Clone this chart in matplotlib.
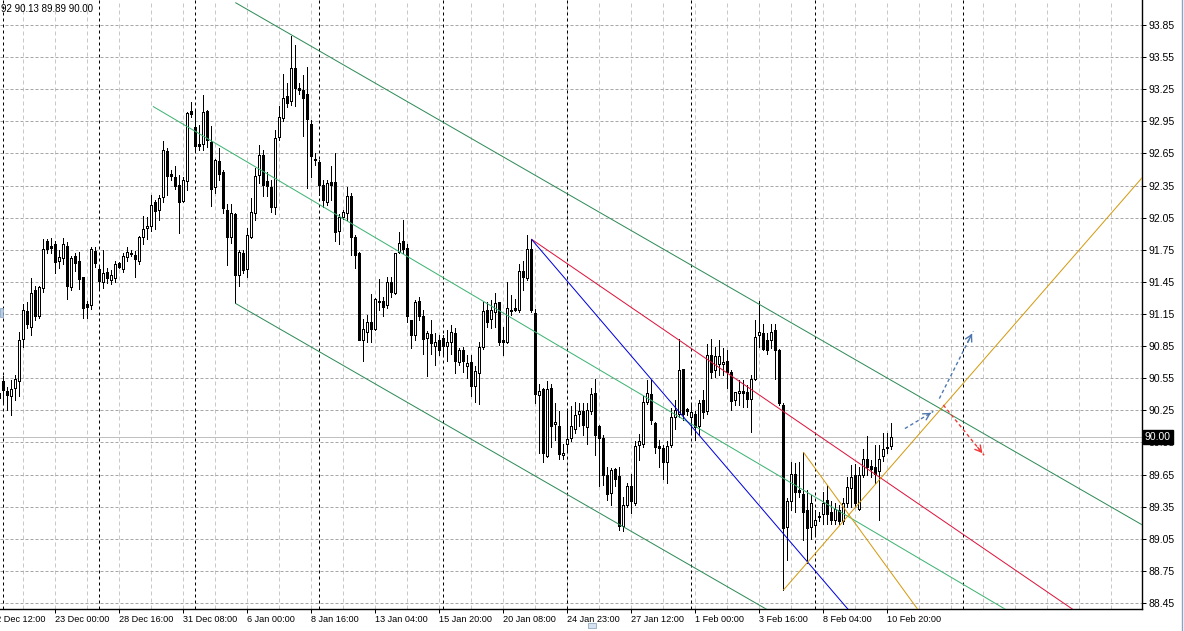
import matplotlib
matplotlib.use("Agg")
import matplotlib.pyplot as plt
import matplotlib.patches as mpatches
import numpy as np

# ---------------- data (H4 candles, bar index -1 .. 222) ----------------
bar_start = -1
opens = [90.37, 90.52, 90.43, 90.38, 90.46, 90.52, 90.92, 91.18, 91.03, 91.37,
         91.13, 91.39, 91.83, 91.79, 91.80, 91.65, 91.67, 91.79, 91.40, 91.69,
         91.65, 91.50, 91.24, 91.23, 91.74, 91.57, 91.45, 91.54, 91.47, 91.49,
         91.63, 91.57, 91.68, 91.72, 91.70, 91.65, 91.87, 91.95, 91.97, 92.20,
         92.12, 92.24, 92.67, 92.46, 92.43, 92.36, 92.21, 92.39, 93.05, 92.90,
         92.74, 92.74, 93.05, 92.76, 92.34, 92.58, 92.48, 92.12, 91.87, 92.08,
         91.51, 91.72, 91.57, 91.87, 92.09, 92.45, 92.64, 92.39, 92.34, 92.15,
         92.80, 92.98, 93.19, 93.14, 93.45, 93.26, 93.24, 93.21, 92.93, 92.60,
         92.57, 92.36, 92.20, 92.38, 92.38, 91.93, 92.06, 92.09, 92.25, 91.87,
         91.72, 90.91, 90.98, 91.08, 91.01, 91.27, 91.27, 91.23, 91.45, 91.35,
         91.73, 91.83, 91.77, 91.09, 90.95, 91.27, 91.13, 90.93, 90.96, 90.85,
         90.91, 90.93, 90.85, 90.89, 90.97, 90.70, 90.81, 90.66, 90.70, 90.48,
         90.60, 90.84, 91.19, 91.10, 91.17, 91.26, 90.91, 90.89, 91.18, 91.21,
         91.19, 91.55, 91.49, 91.76, 91.16, 90.39, 90.45, 89.82, 90.46, 90.12,
         90.10, 89.83, 89.94, 89.99, 90.08, 90.22, 90.24, 90.09, 90.24, 90.41,
         90.10, 89.99, 89.65, 89.48, 89.70, 89.64, 89.17, 89.37, 89.54, 89.38,
         89.93, 89.94, 90.33, 90.40, 90.13, 89.92, 89.90, 89.77, 89.93, 90.19,
         90.22, 90.64, 90.26, 90.19, 90.22, 90.10, 90.35, 90.24, 90.77, 90.63,
         90.68, 90.68, 90.71, 90.61, 90.35, 90.41, 90.43, 90.42, 90.36, 90.54,
         90.95, 90.97, 90.91, 90.91, 91.00, 90.81, 90.30, 89.16, 89.40, 89.66,
         89.51, 89.47, 89.32, 89.16, 89.18, 89.25, 89.28, 89.41, 89.30, 89.23,
         89.32, 89.22, 89.38, 89.52, 89.65, 89.33, 89.65, 89.80, 89.73, 89.72,
         89.68, 89.82, 89.895, 89.92]
highs = [90.42, 90.57, 90.47, 90.53, 90.58, 90.98, 91.24, 91.26, 91.49, 91.41,
         91.41, 91.85, 91.85, 91.86, 91.83, 91.75, 91.86, 91.82, 91.69, 91.72,
         91.73, 91.50, 91.27, 91.78, 91.78, 91.59, 91.75, 91.58, 91.56, 91.65,
         91.64, 91.72, 91.78, 91.75, 91.74, 91.88, 92.07, 92.06, 92.26, 92.22,
         92.26, 92.77, 92.70, 92.50, 92.53, 92.45, 92.43, 93.04, 93.13, 93.06,
         92.92, 93.20, 93.06, 92.91, 92.60, 92.70, 92.50, 92.18, 92.18, 92.09,
         91.75, 91.75, 91.95, 92.23, 92.51, 92.73, 92.68, 92.48, 92.40, 92.87,
         93.09, 93.39, 93.31, 93.75, 93.66, 93.31, 93.38, 93.46, 92.96, 92.65,
         92.59, 92.40, 92.40, 92.53, 92.65, 92.08, 92.12, 92.34, 92.28, 91.89,
         91.73, 91.10, 91.14, 91.34, 91.30, 91.48, 91.31, 91.50, 91.50, 91.72,
         91.92, 92.03, 91.80, 91.09, 91.28, 91.31, 91.19, 90.99, 91.09, 90.97,
         90.95, 90.95, 91.00, 91.05, 91.02, 90.83, 90.84, 90.77, 90.77, 90.66,
         90.89, 91.26, 91.26, 91.28, 91.35, 91.26, 91.03, 91.45, 91.33, 91.29,
         91.62, 91.65, 91.89, 91.85, 91.20, 90.50, 90.46, 90.52, 90.50, 90.32,
         90.24, 89.94, 90.25, 90.29, 90.33, 90.32, 90.32, 90.32, 90.46, 90.54,
         90.11, 90.02, 89.72, 89.71, 89.71, 89.72, 89.44, 89.57, 89.66, 89.96,
         90.03, 90.38, 90.53, 90.53, 90.14, 89.97, 89.93, 89.96, 90.27, 90.35,
         90.92, 90.64, 90.27, 90.32, 90.24, 90.35, 90.44, 90.87, 90.92, 90.84,
         90.91, 90.83, 90.81, 90.63, 90.42, 90.53, 90.53, 90.49, 90.58, 91.09,
         91.27, 91.06, 90.97, 91.06, 91.06, 90.82, 90.32, 89.43, 89.77, 89.76,
         89.77, 89.86, 89.51, 89.46, 89.32, 89.30, 89.49, 89.55, 89.40, 89.38,
         89.37, 89.43, 89.63, 89.74, 89.75, 89.72, 89.89, 90.01, 89.79, 89.93,
         89.93, 90.04, 90.04, 90.13]
lows = [90.31, 90.33, 90.25, 90.21, 90.35, 90.38, 90.84, 91.02, 90.95, 91.09,
        91.11, 91.36, 91.72, 91.72, 91.53, 91.58, 91.62, 91.29, 91.37, 91.55,
        91.38, 91.11, 91.11, 91.20, 91.59, 91.39, 91.39, 91.44, 91.43, 91.45,
        91.58, 91.54, 91.65, 91.69, 91.50, 91.62, 91.80, 91.85, 91.93, 91.94,
        92.03, 92.20, 92.26, 92.40, 92.32, 91.91, 92.20, 92.31, 92.99, 92.67,
        92.68, 92.68, 92.71, 92.16, 92.28, 92.40, 92.09, 91.61, 91.81, 91.25,
        91.41, 91.53, 91.50, 91.86, 92.03, 92.37, 92.25, 92.25, 92.10, 92.08,
        92.78, 92.95, 93.08, 93.10, 93.09, 93.21, 92.81, 92.33, 92.43, 92.54,
        92.26, 92.15, 92.17, 92.22, 91.83, 91.80, 92.04, 92.03, 91.70, 91.58,
        90.91, 90.71, 90.89, 90.89, 91.00, 91.19, 91.13, 91.21, 91.31, 91.34,
        91.72, 91.72, 91.08, 90.83, 90.91, 91.09, 90.78, 90.57, 90.78, 90.67,
        90.77, 90.78, 90.71, 90.78, 90.60, 90.67, 90.61, 90.55, 90.38, 90.33,
        90.31, 90.82, 91.03, 91.02, 91.03, 90.86, 90.77, 90.88, 91.14, 91.18,
        91.17, 91.37, 91.47, 91.17, 90.32, 89.85, 89.77, 89.81, 89.91, 89.97,
        89.80, 89.80, 89.88, 89.96, 90.04, 90.10, 90.02, 89.94, 90.22, 89.83,
        89.54, 89.55, 89.41, 89.37, 89.54, 89.13, 89.12, 89.35, 89.29, 89.37,
        89.79, 89.91, 90.31, 90.12, 89.85, 89.72, 89.61, 89.57, 89.91, 90.08,
        90.19, 90.16, 90.21, 90.04, 89.97, 90.02, 90.18, 90.22, 90.55, 90.56,
        90.58, 90.58, 90.46, 90.25, 90.30, 90.30, 90.28, 90.28, 90.05, 90.53,
        90.84, 90.81, 90.78, 90.83, 90.54, 90.30, 88.57, 88.85, 89.32, 89.30,
        89.44, 89.04, 88.82, 89.05, 89.09, 89.22, 89.19, 89.19, 89.19, 89.19,
        89.19, 89.19, 89.35, 89.35, 89.35, 89.32, 89.63, 89.65, 89.63, 89.57,
        89.23, 89.78, 89.85, 89.89]
closes = [90.41, 90.44, 90.39, 90.45, 90.54, 90.91, 91.19, 91.06, 91.35, 91.13,
          91.40, 91.76, 91.76, 91.77, 91.64, 91.68, 91.80, 91.41, 91.67, 91.63,
          91.48, 91.21, 91.22, 91.76, 91.63, 91.46, 91.53, 91.49, 91.51, 91.62,
          91.59, 91.69, 91.73, 91.71, 91.66, 91.87, 91.94, 91.97, 92.17, 92.11,
          92.23, 92.68, 92.44, 92.44, 92.35, 92.20, 92.40, 93.03, 93.02, 92.72,
          92.72, 93.04, 92.78, 92.32, 92.59, 92.46, 92.14, 91.87, 92.09, 91.51,
          91.73, 91.56, 91.89, 92.10, 92.44, 92.64, 92.36, 92.35, 92.15, 92.79,
          92.99, 93.17, 93.12, 93.45, 93.26, 93.24, 93.17, 92.97, 92.63, 92.59,
          92.36, 92.22, 92.37, 92.36, 91.92, 92.06, 92.10, 92.25, 91.87, 91.70,
          90.91, 91.01, 91.08, 91.01, 91.29, 91.26, 91.22, 91.45, 91.36, 91.72,
          91.81, 91.76, 91.13, 90.95, 91.26, 91.13, 90.92, 90.97, 90.88, 90.89,
          90.81, 90.85, 90.89, 90.98, 90.71, 90.81, 90.71, 90.69, 90.48, 90.62,
          90.84, 91.18, 91.08, 91.19, 91.25, 90.89, 90.89, 91.21, 91.19, 91.19,
          91.55, 91.50, 91.76, 91.19, 90.40, 90.43, 89.85, 90.45, 90.10, 90.14,
          89.84, 89.85, 89.98, 90.10, 90.21, 90.24, 90.11, 90.25, 90.40, 90.02,
          89.99, 89.65, 89.47, 89.69, 89.61, 89.17, 89.37, 89.54, 89.40, 89.92,
          89.96, 90.33, 90.41, 90.16, 89.91, 89.90, 89.77, 89.92, 90.19, 90.25,
          90.63, 90.22, 90.24, 90.23, 90.09, 90.32, 90.23, 90.77, 90.61, 90.76,
          90.76, 90.70, 90.61, 90.34, 90.42, 90.43, 90.41, 90.36, 90.54, 90.94,
          90.98, 90.82, 90.81, 90.98, 90.81, 90.32, 89.15, 89.40, 89.66, 89.49,
          89.49, 89.30, 89.15, 89.38, 89.23, 89.26, 89.38, 89.28, 89.23, 89.33,
          89.22, 89.38, 89.53, 89.63, 89.38, 89.65, 89.80, 89.72, 89.70, 89.66,
          89.80, 89.89, 89.91, 90.00]

x_tick_bars = [-3, 13, 29, 45, 61, 77, 93, 109, 125, 141, 157, 173, 189, 205, 221]
x_tick_labels = ["22 Dec 12:00", "23 Dec 00:00", "28 Dec 16:00", "31 Dec 08:00",
                 "6 Jan 00:00", "8 Jan 16:00", "13 Jan 04:00", "15 Jan 20:00",
                 "20 Jan 08:00", "24 Jan 23:00", "27 Jan 12:00", "1 Feb 00:00",
                 "3 Feb 16:00", "8 Feb 04:00", "10 Feb 20:00"]
price_ticks = [93.85, 93.55, 93.25, 92.95, 92.65, 92.35, 92.05, 91.75, 91.45, 91.15,
               90.85, 90.55, 90.25, 89.95, 89.65, 89.35, 89.05, 88.75, 88.45]
separator_bars = [0, 24, 48, 79, 110, 141, 172, 203, 240]
bid_price = 90.00
header_text = "92 90.13 89.89 90.00"

# trend objects: ((bar, price), (bar, price)), drawn as rays to the right
channel_upper = ((58, 94.06), (222, 90.53))
channel_lower = ((58, 91.25), (222, 87.72))
channel_mid = ((37.4, 93.09), (222, 89.02))
red_ray = ((132, 91.85), (222, 89.55))
blue_ray = ((132, 91.85), (170, 90.19))
orange_up = ((195, 88.57), (222, 89.73))
orange_down = ((200, 89.86), (222, 88.73))
# dashed forecast arrows ((bar, price) -> (bar, price))
arrow_blue_1 = ((225.4, 90.08), (232.5, 90.24))
arrow_blue_2 = ((234.0, 90.36), (242.5, 90.99))
arrow_red = ((235.0, 90.30), (245.2, 89.83))

# ---------------- fonts ----------------
plt.rcParams["font.family"] = ["Liberation Sans", "DejaVu Sans"]
FS_X = 6.6
FS_H = 7.0
FS_Y = 7.5

# ---------------- figure ----------------
W, H = 1184, 631
fig = plt.figure(figsize=(W / 100, H / 100), dpi=100)
fig.patch.set_facecolor("white")
ax = fig.add_axes([0, 22 / H, 1142 / W, 609 / H])
XMIN, XMAX = -0.833, 284.67
YMIN, YMAX = 88.394, 94.084
ax.set_facecolor("white")
px = 0.72  # 1 pixel in points

# grid
grid_bars = np.arange(-3, 290, 8)
ax.vlines(grid_bars, YMIN, YMAX, colors="#C8C8C8", linewidth=px,
          linestyles=(0, (4, 3)), zorder=1)
ax.hlines(price_ticks, XMIN, XMAX, colors="#A8A8A8", linewidth=px,
          linestyles=(0, (3, 2)), zorder=1)
ax.vlines(separator_bars, YMIN, YMAX, colors="black", linewidth=px,
          linestyles=(0, (3, 3)), zorder=1.5)
# bid line
ax.axhline(bid_price, color="#C0C0C0", linewidth=px, zorder=1.6)

# candles
idx = np.arange(bar_start, bar_start + len(opens))
o = np.array(opens); h = np.array(highs); l = np.array(lows); c = np.array(closes)
up = c >= o
ax.vlines(idx, l, h, colors="black", linewidth=px, zorder=3, antialiased=False)
bot = np.minimum(o, c)
hgt = np.maximum(np.abs(c - o), 0.002)
ax.bar(idx, hgt, bottom=bot, width=0.56,
       color=np.where(up, "white", "black"), edgecolor="black",
       linewidth=px, zorder=4, antialiased=False)


def ray(seg, color, lw=px):
    (b1, p1), (b2, p2) = seg
    slope = (p2 - p1) / (b2 - b1)
    bend = XMAX + 5
    ax.plot([b1, bend], [p1, p1 + slope * (bend - b1)], color=color,
            linewidth=lw, zorder=5, solid_capstyle="butt")


ray(channel_upper, "#2E8B57")
ray(channel_lower, "#2E8B57")
ray(channel_mid, "#3CB371")
ray(red_ray, "#DC143C")
ray(blue_ray, "#0000E0")
ray(orange_up, "#D49A10")
ray(orange_down, "#D49A10")


def dashed_arrow(seg, color):
    (b1, p1), (b2, p2) = seg
    ax.plot([b1, b2], [p1, p2], color=color, linewidth=1.0,
            linestyle=(0, (2.5, 2)), zorder=6)
    ax.annotate("", xy=(b2, p2), xytext=(b1 + (b2 - b1) * 0.8, p1 + (p2 - p1) * 0.8),
                arrowprops=dict(arrowstyle="->,head_length=0.45,head_width=0.25",
                                color=color, linewidth=1.0), zorder=6)


dashed_arrow(arrow_blue_1, "#5078B0")
dashed_arrow(arrow_blue_2, "#5078B0")
dashed_arrow(arrow_red, "#F03838")

# axes styling
for s in ["top", "left"]:
    ax.spines[s].set_visible(False)
for s in ["right", "bottom"]:
    ax.spines[s].set_linewidth(1.0)
    ax.spines[s].set_color("black")
ax.yaxis.tick_right()
ax.set_yticks(price_ticks)
ax.set_yticklabels([f"{p:.2f}" for p in price_ticks])
ax.tick_params(axis="y", direction="out", length=3, width=px, pad=2,
               labelsize=FS_Y, colors="black")
ax.set_xticks(x_tick_bars[1:])
ax.set_xticklabels(x_tick_labels[1:])
ax.tick_params(axis="x", direction="out", length=3, width=px, pad=1.0,
               labelsize=FS_X, colors="black")
for lab in ax.get_xticklabels():
    lab.set_horizontalalignment("left")

# limits set after ticks so the tick setters cannot widen the view
ax.set_xlim(XMIN, XMAX)
ax.set_ylim(YMIN, YMAX)

# first (partly hidden) time label, left of the visible range
ax.text(x_tick_bars[0], -0.0095, x_tick_labels[0], transform=ax.get_xaxis_transform(),
        ha="left", va="top", fontsize=FS_X, color="black", clip_on=False)

# bid label box on the price axis
ax.text(1.0025, (bid_price - YMIN) / (YMAX - YMIN), f"{bid_price:.2f}",
        transform=ax.transAxes, ha="left", va="center", fontsize=FS_Y,
        color="white", zorder=10, clip_on=False,
        bbox=dict(boxstyle="square,pad=0.2", facecolor="black", edgecolor="black"))

# header text
fig.text(0.001, 1 - 12 / H, header_text, ha="left", va="baseline", fontsize=FS_H,
         color="black")

# small window widgets (left shift marker, bottom scroll marker, right border)
fig.add_artist(mpatches.Rectangle((0, 1 - 317 / H), 3 / W, 9 / H,
                                  facecolor="#B8CCE4", edgecolor="#7F9DB9",
                                  linewidth=0.5, transform=fig.transFigure))
fig.add_artist(mpatches.Rectangle((588 / W, 1 - 628 / H), 8 / W, 5 / H,
                                  facecolor="#D6E2F0", edgecolor="#7F9DB9",
                                  linewidth=0.5, transform=fig.transFigure))
fig.add_artist(plt.Line2D([1181.5 / W, 1181.5 / W], [0, 1], color="#8AA4C8",
                          linewidth=1.0))

fig.savefig("out.png", dpi=100, facecolor="white")
